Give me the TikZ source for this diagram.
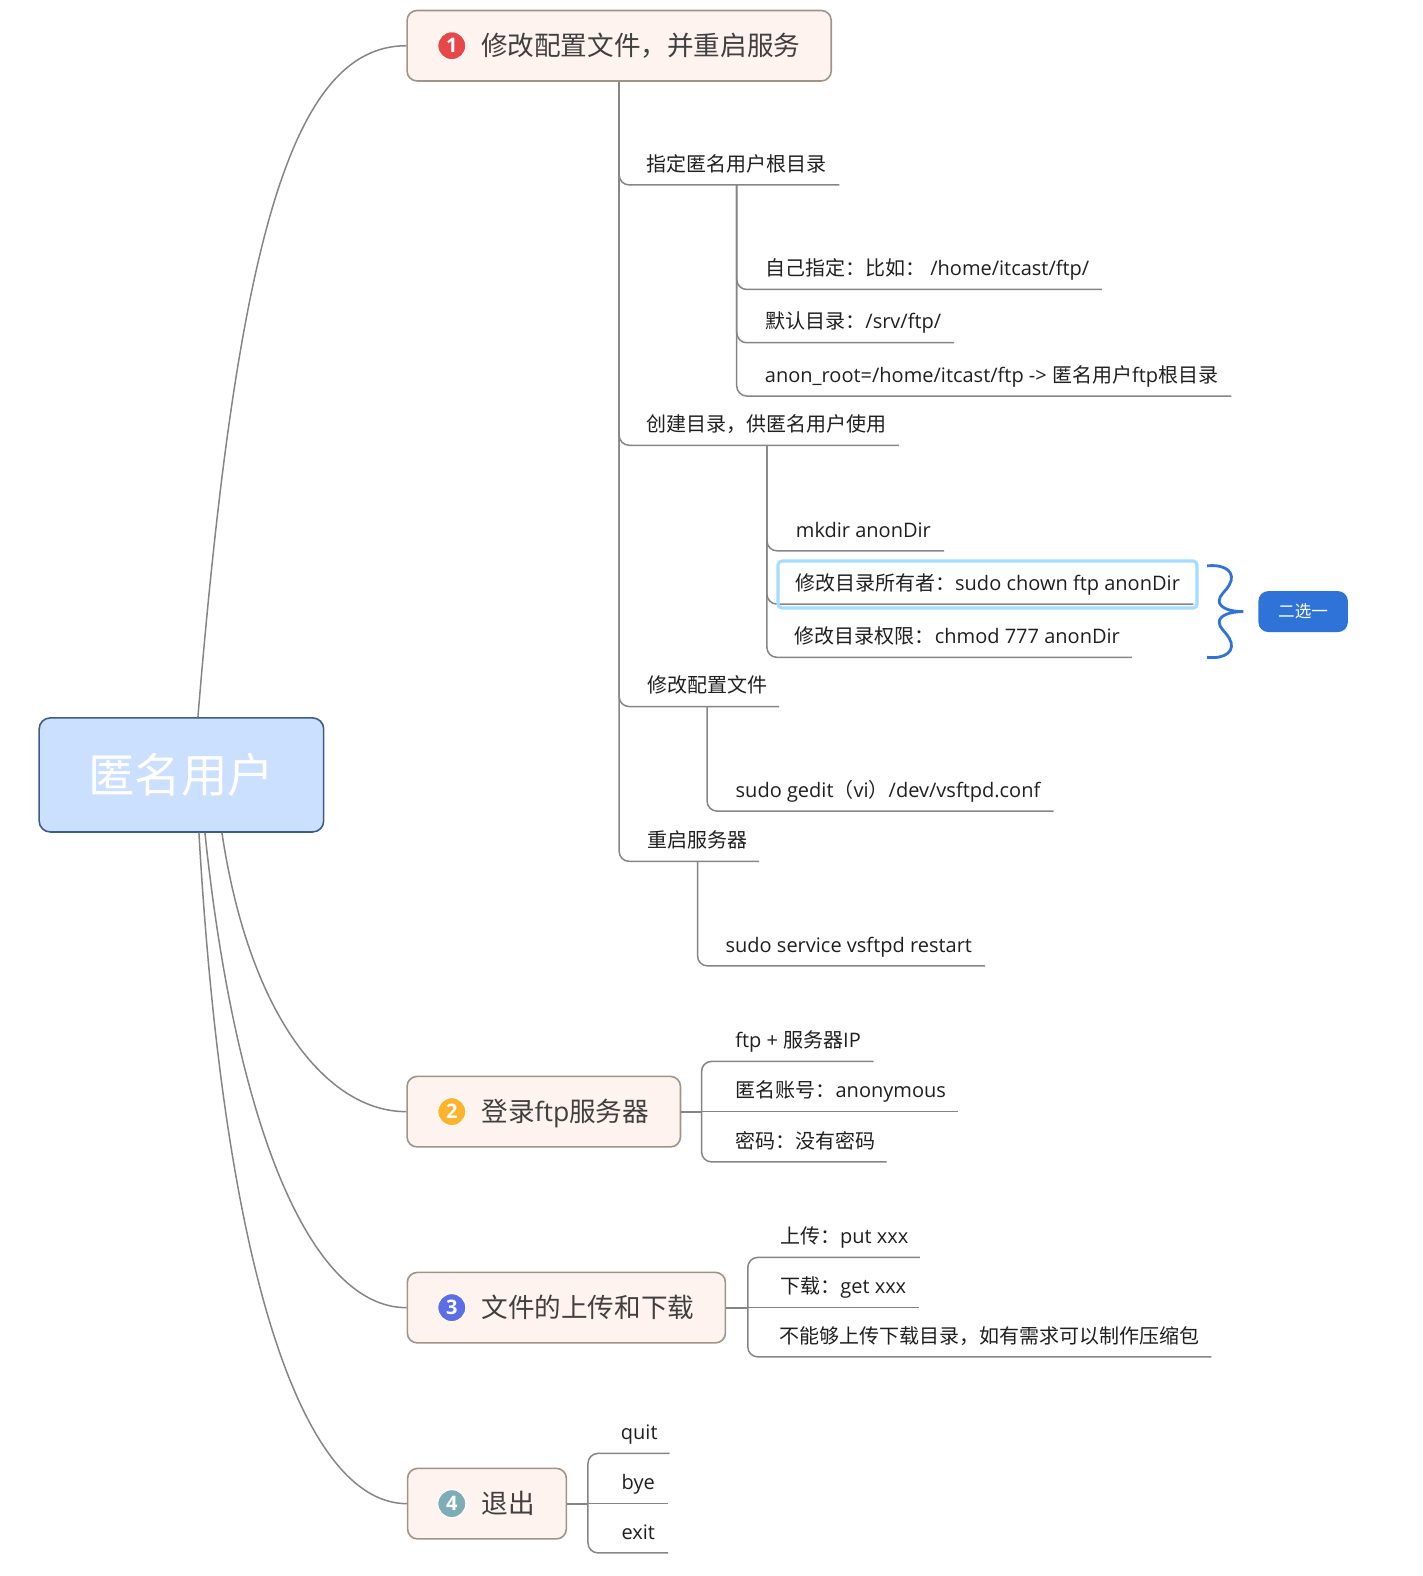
\documentclass[tikz,border=0pt]{standalone}
\usepackage{fontspec}
\setmainfont{Open Sans}
\newfontfamily\cjkfont{Noto Sans CJK SC}
\newcommand{\zh}[1]{{\cjkfont #1}}
\usetikzlibrary{positioning,calc}
\definecolor{lineGray}{HTML}{858585}
\definecolor{topicBorder}{HTML}{A09488}
\definecolor{topicBg}{HTML}{FEF3EE}
\definecolor{rootBorder}{HTML}{3F5B8E}
\definecolor{rootBg}{HTML}{CBDFFF}
\definecolor{noteBlue}{HTML}{2F73D8}
\definecolor{pickBlue}{HTML}{A3DDFF}
\tikzset{
  curve/.style={draw=lineGray, line width=1.5pt},
  branch/.style={draw=lineGray, line width=1.5pt, rounded corners=10pt},
  stem/.style={draw=lineGray, line width=2.2pt},
  rootbox/.style={draw=rootBorder, fill=rootBg, line width=1.6pt, rounded corners=11pt,
    minimum width=284.5, minimum height=114, text=white, text height=46pt, text depth=10pt,
    font=\fontsize{46.5}{54}\selectfont},
  topic/.style={draw=topicBorder, fill=topicBg, line width=1.6pt, rounded corners=10pt,
    minimum width=1.005*#1, minimum height=70.5, text=black!75,
    text height=26pt, text depth=6pt,
    font=\fontsize{26.6}{32}\selectfont},
  leaf/.style={anchor=south, minimum width=1.005*#1, inner xsep=0pt, inner ysep=8.6pt,
    text height=15pt, text depth=5pt, text=black!88,
    font=\fontsize{20}{24}\selectfont},
  marker/.style={circle, draw=white, fill=#1, line width=1pt, minimum size=28,
    inner sep=0pt, text=white, font=\fontsize{20}{24}\selectfont\bfseries},
  pick/.style={draw=pickBlue, line width=3.2pt, rounded corners=4pt,
    minimum width=419, minimum height=47},
  note/.style={fill=noteBlue, rounded corners=10pt, minimum width=89.5, minimum height=41,
    text=white, font=\fontsize{16.6}{20}\selectfont}
}
\begin{document}
\begin{tikzpicture}[x=1.005pt,y=-1.005pt]
  \useasboundingbox (0,0) rectangle (1415,1568);

  \node[rootbox] (root) at (180.5,771) {\zh{匿名用户}};
  \node[topic=422] (topicA) at (616,45.5) {\hspace*{43pt}\zh{修改配置文件，并重启服务}};
  \node[topic=272] (topicB) at (541,1106) {\hspace*{43pt}\zh{登录}ftp\zh{服务器}};
  \node[topic=316.5] (topicC) at (563.5,1301) {\hspace*{43pt}\zh{文件的上传和下载}};
  \node[topic=158] (topicD) at (484.5,1496) {\hspace*{43pt}\zh{退出}};

  \foreach \n/\y/\c/\d in {a/45.5/E8474A/1,b/1106/FDB32C/2,c/1301/5B6EE8/3,d/1496/7FADB5/4}{
    \definecolor{markFill}{HTML}{\c}
    \node[marker=markFill] (mark\n) at (449.5,\y) {\d};
  }

  \draw[curve] ([xshift=16.5]root.north) .. controls (235,250) and (288,45.5) .. (topicA.west);
  \draw[curve] ([xshift=40.5]root.south) .. controls (248,1010) and (325,1106) .. (topicB.west);
  \draw[curve] ([xshift=23.5]root.south) .. controls (235,1125) and (310,1301) .. (topicC.west);
  \draw[curve] ([xshift=17.5]root.south) .. controls (225,1300) and (310,1496) .. (topicD.west);

  % first topic
  \foreach \n/\x/\y/\w/\t in {rootDir/733/184/204/{\zh{指定匿名用户根目录}},
    makeDir/763/443/262/{\zh{创建目录，供匿名用户使用}},
    editConf/703.5/703/143/{\zh{修改配置文件}},
    restart/694/857/122/{\zh{重启服务器}}}{
    \node[leaf=\w] (\n) at (\x,\y) {\t};
    \draw[branch] (topicA.south) |- (\n.south east);
  }
  \foreach \n/\x/\y/\w/\t in {ownDir/922.5/288/347/{\zh{自己指定：比如：} /home/itcast/ftp/},
    srvDir/849/341/200/{\zh{默认目录：}/srv/ftp/},
    anonRoot/986.5/394/477/{anon\_root=/home/itcast/ftp -> \zh{匿名用户}ftp\zh{根目录}}}{
    \node[leaf=\w] (\n) at (\x,\y) {\t};
    \draw[branch] (rootDir.south) |- (\n.south east);
  }
  \foreach \n/\x/\y/\w/\t in {mkdir/859/548/160/{mkdir anonDir},
    chownDir/982.5/601/409/{\zh{修改目录所有者：}sudo chown ftp anonDir},
    chmodDir/952.5/654/347/{\zh{修改目录权限：}chmod 777 anonDir}}{
    \node[leaf=\w] (\n) at (\x,\y) {\t};
    \draw[branch] (makeDir.south) |- (\n.south east);
  }
  \node[leaf=329] (gedit) at (883.5,807) {sudo gedit\zh{（}vi\zh{）}/dev/vsftpd.conf};
  \draw[branch] (editConf.south) |- (gedit.south east);
  \node[leaf=271] (service) at (844.5,961) {sudo service vsftpd restart};
  \draw[branch] (restart.south) |- (service.south east);

  \node[pick] (pickBox) at (982.5,581.5) {};
  \draw[noteBlue,line width=2.8pt] (1201,563) .. controls (1220,561) and (1230,570) .. (1223,582)
    .. controls (1219,589) and (1213,592) .. (1213,598)
    .. controls (1213,604) and (1222,608.5) .. (1237,608.5)
    .. controls (1222,608.5) and (1213,613) .. (1213,619)
    .. controls (1213,625) and (1219,628) .. (1223,635)
    .. controls (1230,647) and (1220,656) .. (1201,654);
  \node[note] (either) at (1296.5,608.5) {\zh{二选一}};

  % second topic
  \coordinate (forkB) at (698,1106);
  \foreach \n/\x/\y/\w/\t in {login/794/1056/150/{ftp + \zh{服务器}IP},
    account/836.5/1106/233/{\zh{匿名账号：}anonymous},
    passwd/801/1156/162/{\zh{密码：没有密码}}}{
    \node[leaf=\w] (\n) at (\x,\y) {\t};
  }
  \draw[stem] (topicB.east) -- (forkB);
  \draw[branch] (forkB) -- (account.south east);
  \draw[branch] (forkB) |- (login.south east);
  \draw[branch] (forkB) |- (passwd.south east);

  % third topic
  \coordinate (forkC) at (744,1301);
  \foreach \n/\x/\y/\w/\t in {upload/840/1251/150/{\zh{上传：}put xxx},
    download/839/1301/150/{\zh{下载：}get xxx},
    limit/984.5/1350/441/{\zh{不能够上传下载目录，如有需求可以制作压缩包}}}{
    \node[leaf=\w] (\n) at (\x,\y) {\t};
  }
  \draw[stem] (topicC.east) -- (forkC);
  \draw[branch] (forkC) -- (download.south east);
  \draw[branch] (forkC) |- (upload.south east);
  \draw[branch] (forkC) |- (limit.south east);

  % fourth topic
  \coordinate (forkD) at (585,1496);
  \foreach \n/\x/\y/\w/\t in {quit/636/1446/60/quit,bye/635/1496/59/bye,exit/635/1545/59/exit}{
    \node[leaf=\w] (\n) at (\x,\y) {\t};
  }
  \draw[stem] (topicD.east) -- (forkD);
  \draw[branch] (forkD) -- (bye.south east);
  \draw[branch] (forkD) |- (quit.south east);
  \draw[branch] (forkD) |- (exit.south east);
\end{tikzpicture}
\end{document}
